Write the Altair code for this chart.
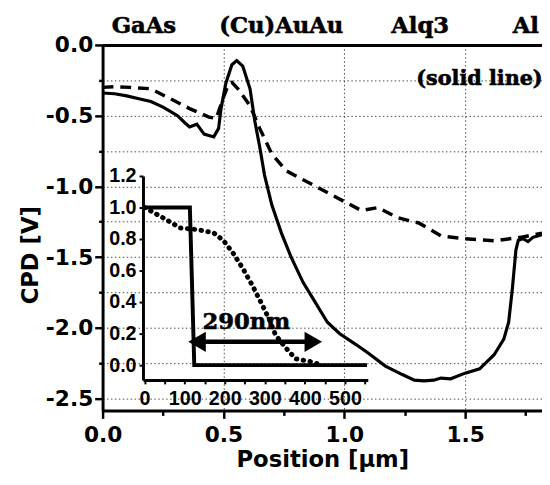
import altair as alt
import pandas as pd

# ---------------- data ----------------
solid_x = [0.00, 0.05, 0.10, 0.15, 0.20, 0.25, 0.28, 0.31, 0.34, 0.36, 0.39, 0.42, 0.46, 0.48,
           0.49, 0.51, 0.535, 0.555, 0.58, 0.61, 0.63, 0.65, 0.67, 0.70, 0.74, 0.78, 0.83, 0.88,
           0.93, 0.98, 1.05, 1.10, 1.17, 1.24, 1.29, 1.33, 1.37, 1.40, 1.44, 1.50, 1.56, 1.62,
           1.66, 1.68, 1.695, 1.71, 1.72, 1.74, 1.76, 1.78, 1.80, 1.818]
solid_y = [-0.34, -0.345, -0.36, -0.38, -0.40, -0.44, -0.47, -0.50, -0.55, -0.58, -0.56, -0.63,
           -0.65, -0.59, -0.45, -0.27, -0.14, -0.11, -0.15, -0.31, -0.54, -0.72, -0.92, -1.13,
           -1.33, -1.50, -1.68, -1.82, -1.96, -2.04, -2.12, -2.18, -2.27, -2.33, -2.37, -2.375,
           -2.37, -2.355, -2.36, -2.32, -2.29, -2.19, -2.08, -1.96, -1.73, -1.45, -1.38, -1.37,
           -1.39, -1.36, -1.35, -1.34]

dash_x = [0.00, 0.05, 0.115, 0.20, 0.28, 0.36, 0.44, 0.47, 0.50, 0.52, 0.535, 0.56, 0.61,
          0.65, 0.70, 0.76, 0.86, 0.97, 1.07, 1.14, 1.22, 1.31, 1.40, 1.50, 1.62, 1.73, 1.818]
dash_y = [-0.30, -0.295, -0.30, -0.31, -0.38, -0.45, -0.51, -0.52, -0.37, -0.28, -0.265,
          -0.31, -0.43, -0.59, -0.77, -0.89, -0.98, -1.08, -1.17, -1.15, -1.22, -1.26, -1.35,
          -1.37, -1.385, -1.36, -1.33]

step_x = [0, 113, 124, 555]
step_y = [1.0, 1.0, 0.0, 0.0]

dot_x = [0, 49, 89, 131, 172, 197, 221, 246, 270, 295, 311, 327, 352, 377, 418, 430]
dot_y = [1.0, 0.93, 0.87, 0.86, 0.84, 0.79, 0.71, 0.61, 0.50, 0.375, 0.29, 0.19, 0.11,
         0.04, 0.02, 0.01]

region_labels = ["GaAs", "(Cu)AuAu", "Alq3", "Al"]
region_x = [0.171, 0.739, 1.314, 1.751]
region_y = [0.084, 0.084, 0.084, 0.084]

note_text = ["(solid line)"]
note_x = [1.298]
note_y = [-0.286]

arrow_x = [131, 421]
arrow_y = [0.148, 0.148]
arrow_text = ["290nm"]
arrow_text_x = [254]
arrow_text_y = [0.275]

x_ticks = [0.0, 0.25, 0.5, 0.75, 1.0, 1.25, 1.5, 1.75]
y_ticks = [0.0, -0.25, -0.5, -0.75, -1.0, -1.25, -1.5, -1.75, -2.0, -2.25, -2.5]
inset_x_ticks = [0, 50, 100, 150, 200, 250, 300, 350, 400, 450, 500, 550]
inset_y_ticks = [0.0, 0.2, 0.4, 0.6, 0.8, 1.0, 1.2]

# ---------------- tables ----------------
df_solid = pd.DataFrame({"x": solid_x, "y": solid_y})
df_dash = pd.DataFrame({"x": dash_x, "y": dash_y})
df_step = pd.DataFrame({"x": step_x, "y": step_y})
df_dot = pd.DataFrame({"x": dot_x, "y": dot_y})
df_regions = pd.DataFrame({"x": region_x, "y": region_y, "t": region_labels})
df_note = pd.DataFrame({"x": note_x, "y": note_y, "t": note_text})
df_arrow = pd.DataFrame({"x": [arrow_x[0]], "x2": [arrow_x[1]], "y": [arrow_y[0]]})
df_heads = pd.DataFrame({"x": arrow_x, "y": arrow_y, "side": ["left", "right"]})
df_arrow_text = pd.DataFrame({"x": arrow_text_x, "y": arrow_text_y, "t": arrow_text})

SANS = "DejaVu Sans"
SERIF = "DejaVu Serif"

X_SCALE = alt.Scale(domain=[0, 1.818], nice=False, zero=False)
Y_SCALE = alt.Scale(domain=[-2.584, 0], nice=False, zero=False)
IX_SCALE = alt.Scale(domain=[-4, 557], range=[41, 269.2], nice=False, zero=False)
IY_SCALE = alt.Scale(domain=[-0.094, 1.2], range=[340, 133], nice=False, zero=False)

half = "abs(datum.value*2 - round(datum.value*2)) < 0.001"
lab = f"{half} ? (datum.value < 0 ? '-' : '') + format(abs(datum.value), '.1f') : ''"

common_axis = dict(
    domainColor="black", domainWidth=3, tickColor="black", tickWidth=2.5,
    labelColor="black", labelFont=SANS, labelFontWeight="bold", labelFontSize=22,
    titleColor="black", titleFont=SANS, titleFontWeight="bold", titleFontSize=23,
    gridColor="#4a4a4a", gridDash=[1.5, 2.5], gridWidth=1,
)

x_axis = alt.Axis(
    values=x_ticks, labelExpr=lab, title="Position [µm]", grid=True,
    gridOpacity={"condition": {"test": half, "value": 1}, "value": 0},
    tickSize={"condition": {"test": half, "value": 8}, "value": 5},
    labelPadding=7, titlePadding=3, labelFlush=False, labelOverlap=False,
    **common_axis,
)
y_axis = alt.Axis(
    values=y_ticks, labelExpr=lab, title="CPD [V]", grid=True, gridOpacity=1,
    tickSize={"condition": {"test": half, "value": 8}, "value": 4},
    labelPadding=2, titlePadding=3, titleY=213, labelFlush=False, labelOverlap=False,
    **common_axis,
)
top_axis = alt.Axis(orient="top", labels=False, ticks=False, grid=False, title=None,
                    domainColor="black", domainWidth=3)

ix_axis = alt.Axis(
    orient="bottom", offset=-31, values=inset_x_ticks, grid=False, title=None,
    labelExpr="datum.value % 100 == 0 ? format(datum.value, 'd') : ''",
    domainColor="black", domainWidth=3, tickColor="black", tickWidth=2, tickSize=4,
    labelColor="black", labelFont="Liberation Sans", labelFontWeight="bold",
    labelFontSize=20, labelPadding=5, labelFlush=False, labelOverlap=False,
)
iy_axis = alt.Axis(
    orient="left", offset=-41, values=inset_y_ticks, grid=False, title=None, format=".1f",
    domainColor="black", domainWidth=3, tickColor="black", tickWidth=2, tickSize=4,
    labelColor="black", labelFont="Liberation Sans", labelFontWeight="bold",
    labelFontSize=20, labelPadding=3, labelFlush=False, labelOverlap=False,
)

serif_style = dict(font=SERIF, fontWeight="bold", color="black", stroke="black", strokeWidth=0.6)

# ---------------- main panel ----------------
solid = alt.Chart(df_solid).mark_line(color="black", strokeWidth=3.2).encode(
    x=alt.X("x:Q", scale=X_SCALE, axis=x_axis),
    y=alt.Y("y:Q", scale=Y_SCALE, axis=y_axis),
    order="x:Q",
)
dashed = alt.Chart(df_dash).mark_line(color="black", strokeWidth=3.5, strokeDash=[11, 7]).encode(
    x=alt.X("x:Q", scale=X_SCALE, axis=None),
    y=alt.Y("y:Q", scale=Y_SCALE, axis=y_axis),
    order="x:Q",
)
regions = alt.Chart(df_regions).mark_text(
    fontSize=23, align="center", baseline="alphabetic", **serif_style,
).encode(
    x=alt.X("x:Q", scale=X_SCALE, axis=top_axis),
    y=alt.Y("y:Q", scale=Y_SCALE, axis=y_axis),
    text="t:N",
)
note = alt.Chart(df_note).mark_text(
    fontSize=21, align="left", baseline="alphabetic", **serif_style,
).encode(
    x=alt.X("x:Q", scale=X_SCALE, axis=None),
    y=alt.Y("y:Q", scale=Y_SCALE, axis=y_axis),
    text="t:N",
)
main = alt.layer(solid, dashed, regions, note).resolve_axis(x="independent")

# ---------------- inset ----------------
step = alt.Chart(df_step).mark_line(color="black", strokeWidth=4).encode(
    x=alt.X("x:Q", scale=IX_SCALE, axis=ix_axis),
    y=alt.Y("y:Q", scale=IY_SCALE, axis=iy_axis),
    order="x:Q",
)
dots = alt.Chart(df_dot).mark_line(
    color="black", strokeWidth=5, strokeDash=[0.5, 6.5], strokeCap="round",
).encode(
    x=alt.X("x:Q", scale=IX_SCALE, axis=ix_axis),
    y=alt.Y("y:Q", scale=IY_SCALE, axis=iy_axis),
    order="x:Q",
)
shaft = alt.Chart(df_arrow).mark_rule(color="black", strokeWidth=4.5).encode(
    x=alt.X("x:Q", scale=IX_SCALE, axis=ix_axis),
    x2="x2:Q",
    y=alt.Y("y:Q", scale=IY_SCALE, axis=iy_axis),
)
heads = alt.Chart(df_heads).mark_point(filled=True, color="black", opacity=1, size=420).encode(
    x=alt.X("x:Q", scale=IX_SCALE, axis=ix_axis),
    y=alt.Y("y:Q", scale=IY_SCALE, axis=iy_axis),
    shape=alt.Shape("side:N", scale=alt.Scale(domain=["left", "right"],
                                              range=["triangle-left", "triangle-right"]),
                    legend=None),
)
atext = alt.Chart(df_arrow_text).mark_text(
    fontSize=23, align="center", baseline="middle", **serif_style,
).encode(
    x=alt.X("x:Q", scale=IX_SCALE, axis=ix_axis),
    y=alt.Y("y:Q", scale=IY_SCALE, axis=iy_axis),
    text="t:N",
)
inset = alt.layer(step, dots, shaft, heads, atext)

chart = alt.layer(main, inset).resolve_scale(
    x="independent", y="independent"
).resolve_axis(x="independent", y="independent").properties(
    width=446, height=371,
    autosize=alt.AutoSizeParams(type="none"),
    padding={"left": 96, "top": 34, "right": 0, "bottom": 62},
).configure_view(stroke=None).configure(background="white")

chart.save("out.html", embed_options={"renderer": "svg", "actions": False})
